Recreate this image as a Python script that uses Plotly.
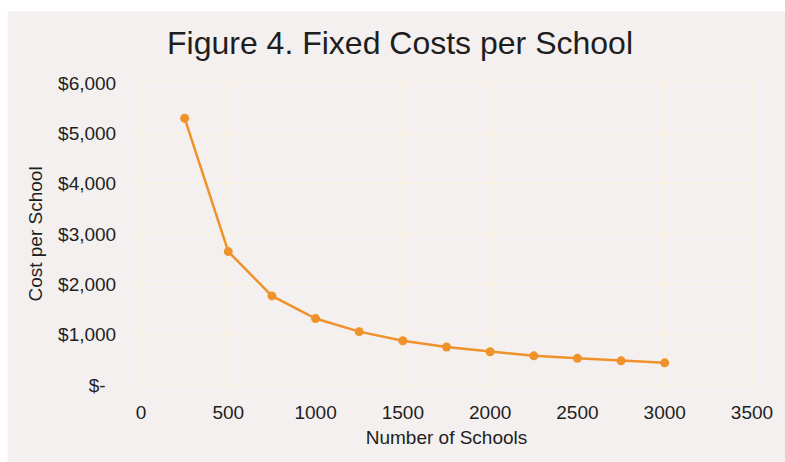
import plotly.graph_objects as go

# Data
schools = [250, 500, 750, 1000, 1250, 1500, 1750, 2000, 2250, 2500, 2750, 3000]
cost_per_school = [5300, 2650, 1770, 1320, 1060, 880, 755, 660, 580, 530, 480, 440]

x_ticks = [0, 500, 1000, 1500, 2000, 2500, 3000, 3500]
y_ticks = [0, 1000, 2000, 3000, 4000, 5000, 6000]
y_ticktext = ["$-\u00a0\u00a0", "$1,000", "$2,000", "$3,000", "$4,000", "$5,000", "$6,000"]

title_text = "Figure 4. Fixed Costs per School"
x_title = "Number of Schools"
y_title = "Cost per School"

W, H = 785, 462
L, R, T, B = 141, 30, 83, 77
pw = W - L - R
ph = H - T - B

BG = "#F4F0EF"
GRID = "#FCF5D9"
ORANGE = "#F0922B"
TXT = "#1E1E1E"
FONT = "Liberation Sans, Arial, Helvetica, sans-serif"

fig = go.Figure()
fig.add_trace(go.Scatter(
    x=schools, y=cost_per_school, mode="lines+markers",
    line=dict(color=ORANGE, width=2.5),
    marker=dict(color=ORANGE, size=9),
    showlegend=False, hoverinfo="x+y",
))

fig.update_layout(
    width=W, height=H,
    margin=dict(l=L, r=R, t=T, b=B),
    paper_bgcolor="white",
    plot_bgcolor=BG,
    font=dict(family=FONT, color=TXT, size=19),
    title=dict(text=title_text, x=400 / W, xref="container", xanchor="center",
               y=1 - 43 / H, yref="container", yanchor="middle",
               font=dict(size=32, color=TXT, family=FONT)),
    shapes=[dict(type="rect", xref="paper", yref="paper", layer="below",
                 x0=(7 - L) / pw, x1=(W + 5 - L) / pw,
                 y0=(T + ph - (H + 8)) / ph,
                 y1=(T + ph - 11) / ph,
                 fillcolor=BG, line=dict(width=0))],
)

fig.update_xaxes(
    range=[0, 3500], tickvals=x_ticks, ticktext=[str(v) for v in x_ticks],
    showgrid=True, gridcolor=GRID, gridwidth=1,
    showline=True, linecolor=GRID, linewidth=1, mirror=True,
    zeroline=False, ticks="", ticklabelstandoff=10,
    tickfont=dict(size=19, color=TXT),
    title=dict(text=x_title, font=dict(size=19, color=TXT), standoff=8),
)
fig.update_yaxes(
    range=[0, 6000], tickvals=y_ticks, ticktext=y_ticktext,
    showgrid=True, gridcolor=GRID, gridwidth=1,
    showline=True, linecolor=GRID, linewidth=1, mirror=True,
    zeroline=False, ticks="", ticklabelstandoff=20,
    tickfont=dict(size=19, color=TXT),
    title=dict(text=y_title, font=dict(size=19, color=TXT), standoff=10),
)

fig.write_html("out.html")
